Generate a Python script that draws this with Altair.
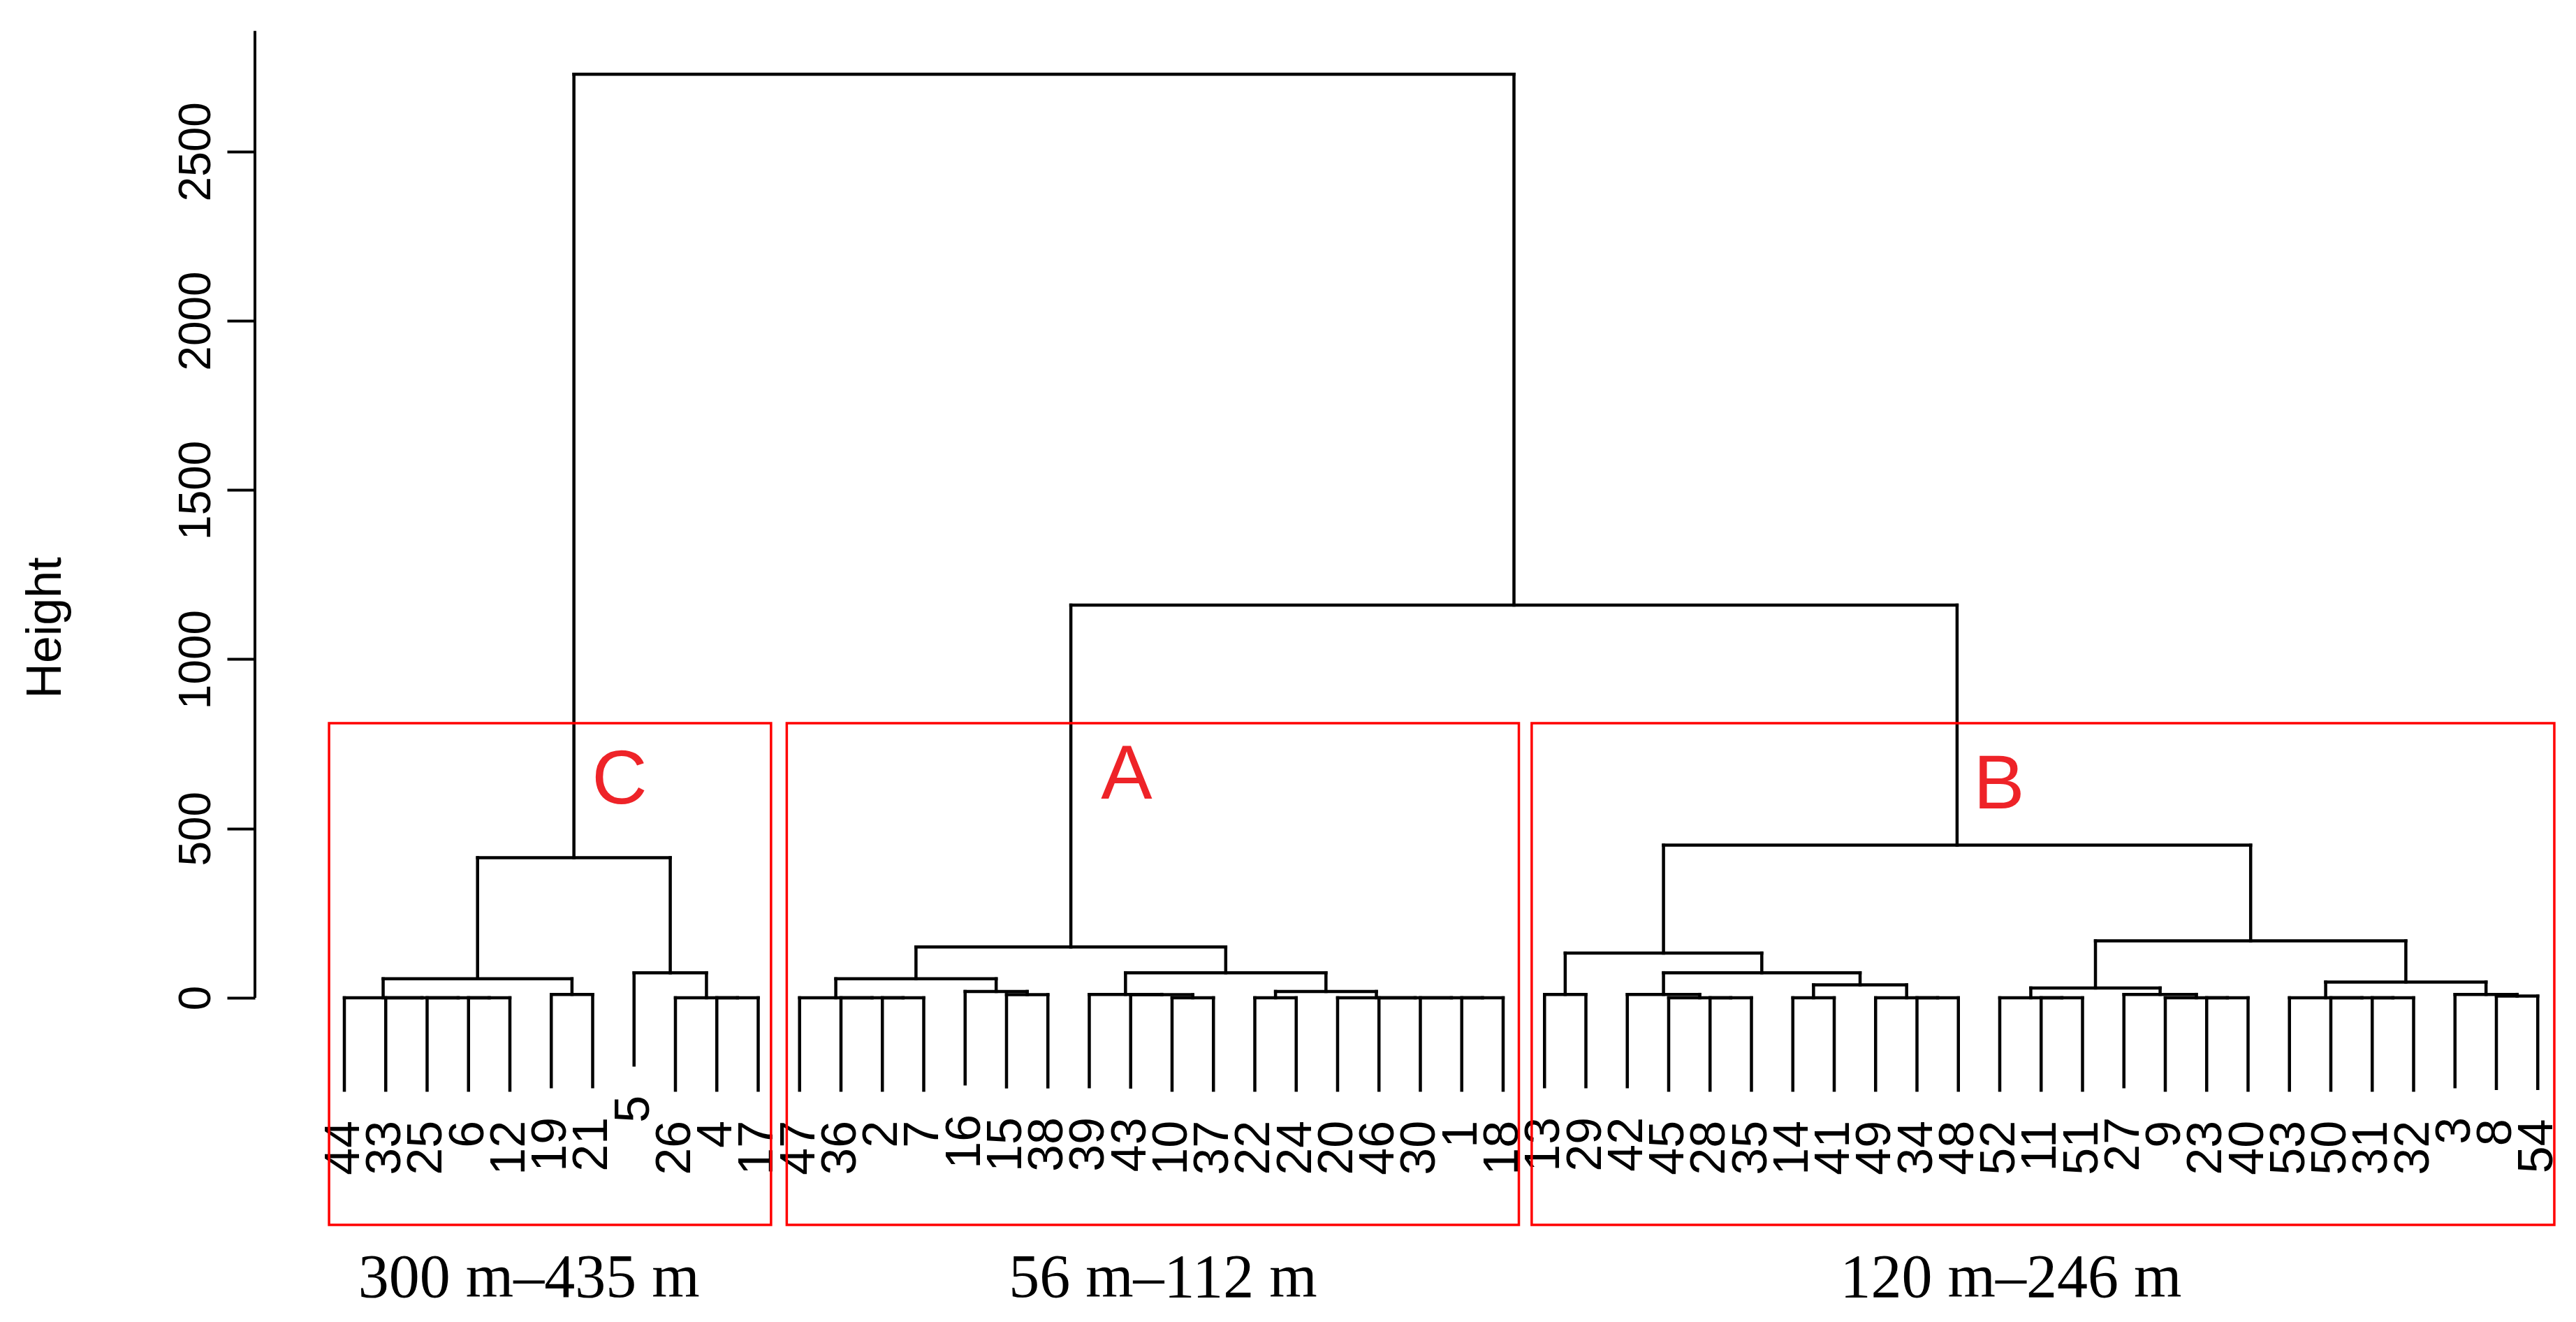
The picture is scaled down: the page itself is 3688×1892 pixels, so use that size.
import altair as alt
import pandas as pd

# leaf labels, left to right
leaf_order = [44, 33, 25, 6, 12, 19, 21, 5, 26, 4, 17,
              47, 36, 2, 7, 16, 15, 38, 39, 43, 10, 37, 22, 24, 20, 46, 30, 1, 18,
              13, 29, 42, 45, 28, 35, 14, 41, 49, 34, 48, 52, 11, 51, 27, 9, 23, 40,
              53, 50, 31, 32, 3, 8, 54]

# hclust-style merge table: negative = leaf label, positive = earlier merge (1-based)
merge_left = [-6, -25, -33, -44, -19, 4, -4, -26, -5, 6,
              -2, -36, -47, -15, -16, 13, -10, -43, -39, -22,
              -1, -30, -46, -20, 20, 19, 16,
              -13, -28, -45, -42, -14, -34, -49, 32, 31, 28,
              -11, -52, -23, -9, -27, 39, -31, -50, -53, -8, -3, 46, 43, 37,
              27, 10]
merge_right = [-12, 1, 2, 3, -21, 5, -17, 7, 8, 9,
               -7, 11, 12, -38, 14, 15, -37, 17, 18, -24,
               -18, 21, 22, 23, 24, 25, 26,
               -29, -35, 29, 30, -41, -48, 33, 34, 35, 36,
               -51, 38, -40, 40, 41, 42, -32, 44, 45, -54, 47, 48, 49, 50,
               51, 52]
merge_height = [0, 0, 0, 0, 10, 56, 0, 0, 74, 414,
                0, 0, 0, 9.5, 18.6, 56, 0, 9, 10, 0,
                0, 0, 0, 0, 18.6, 74, 150,
                10, 0, 0, 10, 0, 0, 0, 38, 74, 132,
                0, 0, 0, 0, 10, 29, 0, 0, 0, 5, 10, 46.6, 168, 451,
                1160, 2728]

y_ticks = [0, 500, 1000, 1500, 2000, 2500]
axis_top = 2856

box_names = ["C", "A", "B"]
box_left = [0.63, 11.69, 29.69]
box_right = [11.31, 29.38, 54.40]
box_top = 811
box_bottom = -671
letter_x = [7.65, 19.90, 40.98]
letter_y = [642, 656, 627]
range_labels = ["300 m\u2013435 m", "56 m\u2013112 m", "120 m\u2013246 m"]
range_x = [5.46, 20.78, 41.27]
range_y = -830

hang = 0.1 * max(merge_height)
label_gap = 90

# ---- layout of the dendrogram from the merge table ----
pos = {lab: i + 1 for i, lab in enumerate(leaf_order)}
node_x, node_h = {}, {}
segs, labels = [], []
for k, (a, b, h) in enumerate(zip(merge_left, merge_right, merge_height), start=1):
    xs_ = []
    for c in (a, b):
        if c < 0:
            cx = pos[-c]
            bottom = h - hang
            labels.append({"x": cx, "y": bottom - label_gap, "t": str(-c)})
        else:
            cx = node_x[c]
            bottom = node_h[c]
        segs.append({"x": cx, "x2": cx, "y": h, "y2": bottom})
        xs_.append(cx)
    segs.append({"x": xs_[0], "x2": xs_[1], "y": h, "y2": h})
    node_x[k] = sum(xs_) / 2
    node_h[k] = h

seg_df = pd.DataFrame(segs)
lab_df = pd.DataFrame(labels)

xmin = -1.1603
xmax = 54.789
ymin = -941.2
ymax = 2930.8
xs = alt.Scale(domain=[xmin, xmax], nice=False, zero=False)
ys = alt.Scale(domain=[ymin, ymax], nice=False, zero=False)

yaxis = alt.Axis(values=y_ticks, format="d", domain=False, grid=False, tickSize=40,
                 tickWidth=4, tickColor="black", labelAngle=270, labelAlign="center",
                 labelBaseline="bottom", labelFontSize=64, labelFont="Liberation Sans",
                 labelColor="black", labelPadding=12, labelFlush=False,
                 labelOverlap=False, title="Height", titleFont="Liberation Sans",
                 titleFontSize=70, titleFontWeight="normal", titleColor="black",
                 titleAngle=270, titleX=-300, titleY=890, titleAlign="center",
                 titleBaseline="middle")


def X(f):
    return alt.X(f, scale=xs, axis=None)


def Y(f):
    return alt.Y(f, scale=ys, axis=yaxis)


tree = alt.Chart(seg_df).mark_rule(color="black", strokeWidth=4.5, strokeCap="square").encode(
    x=X("x:Q"), x2="x2:Q", y=Y("y:Q"), y2="y2:Q")

axis_df = pd.DataFrame({"x": [xmin], "y": [0], "y2": [axis_top]})
axis_line = alt.Chart(axis_df).mark_rule(color="black", strokeWidth=4).encode(
    x=X("x:Q"), y=Y("y:Q"), y2="y2:Q")

leaf_text = alt.Chart(lab_df).mark_text(angle=270, align="right", baseline="middle",
                                        fontSize=70, font="Liberation Sans",
                                        color="black").encode(
    x=X("x:Q"), y=Y("y:Q"), text="t:N")

box_df = pd.DataFrame({"name": box_names, "x": box_left, "x2": box_right,
                       "y": [box_top] * 3, "y2": [box_bottom] * 3})
boxes = alt.Chart(box_df).mark_rect(fillOpacity=0, stroke="#FF0000", strokeWidth=3.5).encode(
    x=X("x:Q"), x2="x2:Q", y=Y("y:Q"), y2="y2:Q")

let_df = pd.DataFrame({"t": box_names, "x": letter_x, "y": letter_y})
letters = alt.Chart(let_df).mark_text(fontSize=110, font="Liberation Sans", color="#EE2328",
                                      align="center", baseline="middle").encode(
    x=X("x:Q"), y=Y("y:Q"), text="t:N")

rng_df = pd.DataFrame({"t": range_labels, "x": range_x, "y": [range_y] * 3})
ranges = alt.Chart(rng_df).mark_text(fontSize=88, font="Liberation Serif", color="black",
                                     align="center", baseline="middle").encode(
    x=X("x:Q"), y=Y("y:Q"), text="t:N")

chart = alt.layer(tree, axis_line, leaf_text, boxes, letters, ranges).properties(
    width=3315, height=1876,
    autosize=alt.AutoSizeParams(type="none"),
    padding={"left": 357, "right": 0, "top": 0, "bottom": 0},
    background="white",
).configure_view(stroke=None)

chart.save("out.html", embed_options={"renderer": "svg", "actions": False})
